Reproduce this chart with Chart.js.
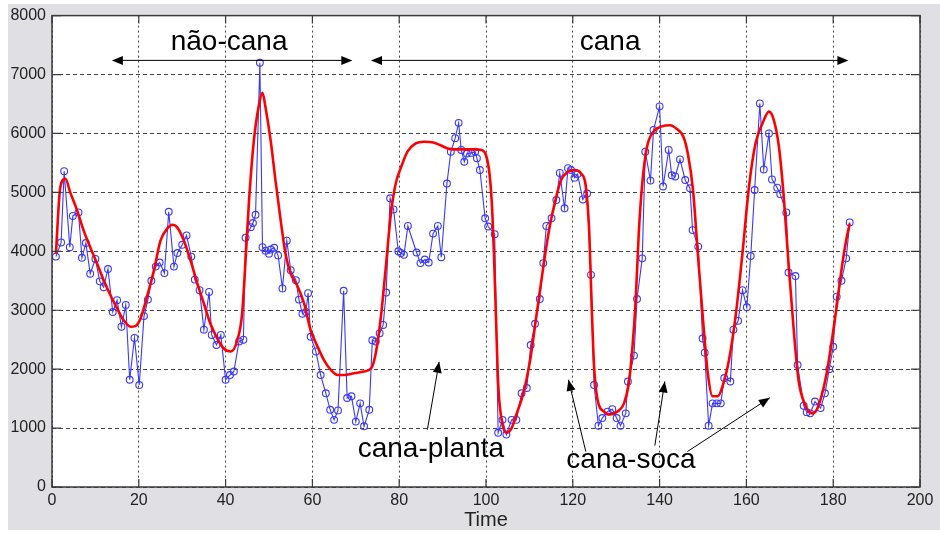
<!DOCTYPE html>
<html>
<head>
<meta charset="utf-8">
<script src="https://cdn.jsdelivr.net/npm/chart.js@4.4.1/dist/chart.umd.min.js"></script>
<style>
  html, body { margin: 0; padding: 0; background: #fff; }
  canvas { display: block; }
</style>
</head>
<body>
<canvas id="chart" width="940" height="533"></canvas>
<script>
// raw series (blue, with markers)
const tBlue = [0.9, 2.1, 2.8, 4.1, 4.8, 6.1, 6.9, 7.8, 8.8, 10.0, 11.0, 11.9, 12.9, 14.0, 15.0, 16.0, 17.0, 17.9, 19.0, 20.1,
  21.2, 22.1, 22.9, 23.9, 24.8, 25.9, 26.9, 28.1, 28.9, 30.0, 31.0, 32.1, 32.9, 34.0, 35.0, 36.2, 36.8, 37.9, 38.9, 40.0,
  41.0, 41.9, 43.1, 44.1, 44.6, 45.8, 46.3, 46.9, 47.9, 48.5, 49.2, 50.0, 50.4, 51.2, 52.1, 53.1, 54.1, 55.0, 56.2, 56.9,
  57.7, 58.5, 59.0, 59.6, 60.8, 61.9, 63.1, 64.1, 65.0, 65.9, 67.2, 68.0, 69.0, 70.0, 71.0, 71.9, 73.1, 73.8, 74.6, 75.5,
  76.3, 77.0, 77.9, 78.7, 79.8, 80.4, 81.1, 82.0, 84.0, 84.9, 85.9, 86.8, 87.8, 88.9, 89.7, 91.0, 91.9, 92.9, 93.7, 94.3,
  95.0, 95.6, 96.6, 97.5, 97.9, 98.6, 99.8, 100.5, 102.0, 102.8, 103.8, 104.7, 105.9, 107.0, 108.2, 109.4, 110.3, 111.3, 112.4, 113.2,
  113.9, 115.1, 116.2, 117.0, 118.1, 118.9, 119.6, 120.4, 121.1, 122.3, 123.3, 124.2, 124.9, 125.9, 126.8, 128.0, 129.1, 130.1, 131.0, 132.2,
  132.7, 134.1, 134.8, 136.0, 136.7, 137.9, 138.6, 140.0, 140.8, 142.1, 142.8, 143.6, 144.7, 145.9, 147.0, 147.6, 148.9, 149.9, 150.4, 151.3,
  152.2, 153.2, 154.1, 154.9, 156.3, 157.0, 158.1, 159.1, 160.1, 161.0, 161.9, 163.1, 164.0, 165.2, 165.9, 167.1, 167.8, 169.2, 169.7, 171.3,
  171.8, 173.2, 173.9, 174.7, 175.8, 177.1, 178.1, 179.1, 180.0, 180.8, 181.9, 183.0, 183.8];
const vBlue = [3910, 4150, 5360, 4070, 4600, 4660, 3890, 4140, 3620, 3870, 3490, 3390, 3700, 2970, 3170, 2720, 3090, 1820, 2530, 1730,
  2900, 3180, 3500, 3740, 3810, 3630, 4670, 3740, 3970, 4110, 4270, 3910, 3520, 3340, 2670, 3310, 2580, 2410, 2580, 1820,
  1900, 1960, 2470, 2500, 4230, 4410, 4480, 4620, 7200, 4070, 4010, 3960, 4030, 4060, 3930, 3370, 4180, 3680, 3510, 3180,
  2940, 2970, 3290, 2550, 2300, 1900, 1590, 1310, 1140, 1300, 3330, 1510, 1540, 1110, 1420, 1030, 1310, 2490, 2470, 2610,
  2750, 3300, 4900, 4710, 4000, 3970, 3940, 4430, 3980, 3800, 3860, 3810, 4300, 4430, 3900, 5150, 5690, 5920, 6180, 5720,
  5520, 5660, 5670, 5690, 5580, 5380, 4560, 4420, 4290, 920, 1140, 890, 1140, 1140, 1590, 1680, 2410, 2770, 3190, 3800,
  4430, 4560, 4870, 5330, 4730, 5410, 5380, 5250, 5310, 4880, 4980, 3600, 1730, 1040, 1170, 1280, 1320, 1170, 1040, 1250,
  1790, 2230, 3190, 3880, 5690, 5200, 6060, 6460, 5100, 5720, 5290, 5270, 5560, 5210, 5070, 4360, 4080, 2520, 2280, 1040,
  1420, 1420, 1420, 1850, 1790, 2670, 2820, 3340, 3050, 3920, 5040, 6510, 5390, 6000, 5220, 5080, 4970, 4660, 3640, 3580,
  2070, 1380, 1270, 1250, 1450, 1340, 1590, 2000, 2380, 3230, 3500, 3880, 4490];

// smoothed series (red)
const tRed = [0.9, 1.9, 3.1, 4.2, 5.8, 7.3, 8.8, 10.4, 11.9, 13.5, 15.0, 16.5, 18.1, 19.2, 20.4, 21.9, 23.5, 25.0, 26.5, 27.8,
  28.8, 30.4, 31.9, 33.5, 35.0, 36.5, 38.1, 39.6, 41.2, 42.7, 43.8, 44.6, 45.4, 46.5, 47.7, 48.5, 49.2, 50.4, 51.5, 52.7,
  53.8, 55.0, 56.5, 58.1, 59.6, 61.2, 62.7, 64.2, 65.8, 67.3, 69.6, 71.9, 73.5, 74.6, 75.8, 77.0, 78.1, 79.2, 80.4, 81.9,
  83.8, 85.7, 87.6, 89.5, 91.0, 92.5, 94.8, 97.1, 99.0, 100.0, 100.8, 101.3, 101.8, 102.3, 102.8, 103.6, 104.7, 105.9, 107.0, 108.6,
  110.1, 111.6, 113.1, 114.6, 116.1, 117.3, 118.9, 120.4, 121.9, 123.0, 123.8, 124.3, 124.9, 125.7, 127.2, 128.7, 130.3, 131.8, 132.9, 133.7,
  134.5, 135.2, 136.0, 137.1, 138.6, 140.5, 142.4, 143.9, 145.5, 146.5, 147.7, 148.8, 150.0, 151.1, 152.2, 153.4, 154.5, 156.0, 157.6, 159.1,
  160.6, 162.1, 163.7, 165.2, 166.3, 167.5, 168.6, 169.7, 170.9, 172.0, 173.5, 175.1, 176.2, 177.3, 178.5, 179.6, 180.8, 181.9, 183.0, 183.8];
const vRed = [3960, 5080, 5230, 5000, 4690, 4350, 4070, 3790, 3510, 3250, 3030, 2830, 2720, 2730, 2860, 3230, 3680, 4180, 4380, 4450,
  4410, 4180, 3850, 3450, 3110, 2770, 2520, 2350, 2300, 2490, 2940, 3850, 4860, 5870, 6490, 6690, 6440, 5870, 5200, 4520,
  3960, 3620, 3420, 3110, 2660, 2380, 2150, 1990, 1900, 1900, 1930, 1960, 2010, 2270, 2900, 3800, 4650, 5150, 5420, 5690,
  5830, 5860, 5850, 5800, 5750, 5730, 5730, 5730, 5720, 5630, 5320, 4870, 4020, 2890, 1760, 1140, 920, 1000, 1230, 1590,
  2120, 2900, 3680, 4390, 4900, 5210, 5350, 5380, 5320, 5100, 4310, 3180, 2050, 1480, 1280, 1230, 1280, 1420, 1760, 2330,
  3180, 4310, 5150, 5770, 6030, 6120, 6140, 6080, 5940, 5660, 5040, 3970, 2840, 1930, 1540, 1540, 1710, 2160, 2950, 3970,
  5100, 5830, 6170, 6370, 6230, 5770, 4930, 3800, 2670, 1820, 1400, 1250, 1310, 1540, 1930, 2440, 3060, 3680, 4190, 4470];

const xMin = 0, xMax = 200, xStep = 20;
const yMin = 0, yMax = 8000, yStep = 1000;

// annotations, in data units
const spanLabels = [
  { text: "não-cana", t: 40.8, v: 7410, from: 13.8, to: 69.2, av: 7240 },
  { text: "cana", t: 128.6, v: 7410, from: 73.5, to: 183.5, av: 7240 }
];
const phaseLabels = [
  { text: "cana-planta", t: 87.3, v: 516 },
  { text: "cana-soca", t: 133.4, v: 330 }
];
const pointers = [
  { t0: 86.5, v0: 974, t1: 89.2, v1: 2125 },
  { t0: 123.0, v0: 601, t1: 119.0, v1: 1820 },
  { t0: 138.9, v0: 703, t1: 141.2, v1: 1791 },
  { t0: 146.4, v0: 601, t1: 165.4, v1: 1515 }
];

const FONT = "'Liberation Sans', Arial, sans-serif";

function arrowHead(ctx, x0, y0, x1, y1) {
  const a = Math.atan2(y1 - y0, x1 - x0);
  const len = 11, half = 4.5;
  ctx.beginPath();
  ctx.moveTo(x1, y1);
  ctx.lineTo(x1 - len * Math.cos(a) + half * Math.sin(a), y1 - len * Math.sin(a) - half * Math.cos(a));
  ctx.lineTo(x1 - len * Math.cos(a) - half * Math.sin(a), y1 - len * Math.sin(a) + half * Math.cos(a));
  ctx.closePath();
  ctx.fill();
}

const matlabFrame = {
  id: "matlabFrame",
  beforeDraw(chart) {
    const { ctx, chartArea: a } = chart;
    ctx.save();
    ctx.fillStyle = "#ffffff";
    ctx.fillRect(0, 0, chart.width, chart.height);
    ctx.fillStyle = "#e0e0e4";
    ctx.fillRect(8, 4, chart.width - 8, chart.height - 7);
    ctx.fillStyle = "#ffffff";
    ctx.fillRect(a.left, a.top, a.right - a.left, a.bottom - a.top);
    ctx.restore();
  },
  afterDraw(chart) {
    const { ctx, chartArea: a, scales } = chart;
    const xs = scales.x, ys = scales.y;
    ctx.save();
    // box
    ctx.strokeStyle = "#3a3a3a";
    ctx.lineWidth = 1.5;
    ctx.strokeRect(a.left, a.top, a.right - a.left, a.bottom - a.top);
    // inward ticks
    ctx.lineWidth = 1.2;
    ctx.beginPath();
    xs.ticks.forEach(tk => {
      const x = xs.getPixelForValue(tk.value);
      ctx.moveTo(x, a.bottom); ctx.lineTo(x, a.bottom - 8);
      ctx.moveTo(x, a.top); ctx.lineTo(x, a.top + 8);
    });
    ys.ticks.forEach(tk => {
      const y = ys.getPixelForValue(tk.value);
      ctx.moveTo(a.left, y); ctx.lineTo(a.left + 9, y);
      ctx.moveTo(a.right, y); ctx.lineTo(a.right - 9, y);
    });
    ctx.stroke();

    // annotations
    ctx.fillStyle = "#000";
    ctx.strokeStyle = "#000";
    ctx.lineWidth = 1;
    ctx.textAlign = "center";
    ctx.textBaseline = "alphabetic";
    ctx.font = "28px " + FONT;
    spanLabels.forEach(s => {
      ctx.fillText(s.text, xs.getPixelForValue(s.t), ys.getPixelForValue(s.v));
      const xa = xs.getPixelForValue(s.from), xb = xs.getPixelForValue(s.to), y = ys.getPixelForValue(s.av);
      ctx.beginPath(); ctx.moveTo(xa + 6, y); ctx.lineTo(xb - 6, y); ctx.stroke();
      arrowHead(ctx, xb - 20, y, xb, y);
      arrowHead(ctx, xa + 20, y, xa, y);
    });
    phaseLabels.forEach(p => {
      ctx.fillText(p.text, xs.getPixelForValue(p.t), ys.getPixelForValue(p.v));
    });
    pointers.forEach(p => {
      const x0 = xs.getPixelForValue(p.t0), y0 = ys.getPixelForValue(p.v0);
      const x1 = xs.getPixelForValue(p.t1), y1 = ys.getPixelForValue(p.v1);
      ctx.beginPath(); ctx.moveTo(x0, y0); ctx.lineTo(x1, y1); ctx.stroke();
      arrowHead(ctx, x0, y0, x1, y1);
    });
    ctx.restore();
  }
};

new Chart(document.getElementById("chart"), {
  type: "line",
  data: {
    datasets: [
      {
        label: "filtrado",
        data: tRed.map((t, i) => ({ x: t, y: vRed[i] })),
        borderColor: "#ff0000",
        borderWidth: 2.6,
        pointRadius: 0,
        cubicInterpolationMode: "monotone",
        order: 0
      },
      {
        label: "original",
        data: tBlue.map((t, i) => ({ x: t, y: vBlue[i] })),
        borderColor: "rgb(56,56,255)",
        borderWidth: 1.1,
        pointRadius: 3.4,
        pointBorderWidth: 1.1,
        pointBorderColor: "rgb(56,56,255)",
        pointBackgroundColor: "rgba(0,0,0,0)",
        tension: 0,
        order: 1
      }
    ]
  },
  options: {
    responsive: false,
    animation: false,
    devicePixelRatio: 1,
    layout: { padding: { left: 0, top: 15, right: 20, bottom: 0 } },
    plugins: { legend: { display: false }, tooltip: { enabled: false } },
    scales: {
      x: {
        type: "linear", min: xMin, max: xMax,
        ticks: { stepSize: xStep, color: "#222", font: { family: FONT, size: 16 }, padding: 4, maxRotation: 0,
          callback: v => String(v) },
        grid: { color: "#444", lineWidth: 1, drawTicks: false },
        border: { display: false, dash: [2, 3] },
        title: { display: true, text: "Time", color: "#222", font: { family: FONT, size: 20 }, padding: { top: 0, bottom: 1 } },
        afterFit(scale) { scale.height = 46; }
      },
      y: {
        min: yMin, max: yMax,
        ticks: { stepSize: yStep, color: "#222", font: { family: FONT, size: 16 }, padding: 6,
          callback: v => String(v) },
        grid: { color: "#444", lineWidth: 1, drawTicks: false },
        border: { display: false, dash: [4, 3] },
        afterFit(scale) { scale.width = 52; }
      }
    }
  },
  plugins: [matlabFrame]
});
</script>
</body>
</html>
